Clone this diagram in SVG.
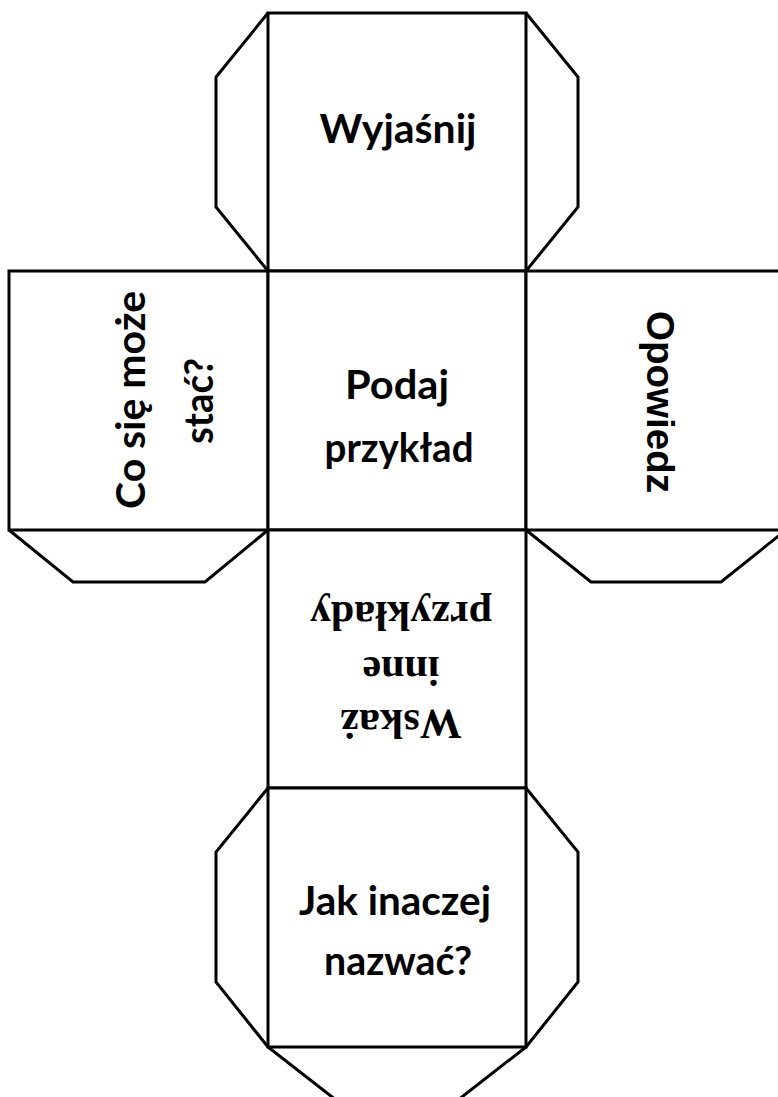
<svg xmlns="http://www.w3.org/2000/svg" width="778" height="1097" viewBox="0 0 778 1097">
<style>
.ln{fill:#fff;stroke:#000;stroke-width:3;stroke-linejoin:miter}
.fl{fill:none;stroke:#000;stroke-width:3;stroke-linejoin:miter}
.c{font-family:Lato,"Open Sans","Liberation Sans",sans-serif;font-weight:bold;font-size:40px;fill:#000;text-anchor:middle}
.a{font-family:"Liberation Sans",Arial,sans-serif;font-weight:bold;font-size:38px;fill:#000;text-anchor:middle}
.s{font-family:"Liberation Serif","Times New Roman",serif;font-weight:bold;font-size:42px;fill:#000;text-anchor:middle}
</style>
<rect width="778" height="1097" fill="#fff"/>
<g id="flaps">
<polyline class="fl" points="268,13 216,77 216,207 268,271"/>
<polyline class="fl" points="526,13 578,77 578,207 526,271"/>
<polyline class="fl" points="9,530 73,582 205,582 268,530"/>
<polyline class="fl" points="526,530 591,582 721,582 786,530"/>
<polyline class="fl" points="268,788 216,852 216,982 268,1047"/>
<polyline class="fl" points="526,788 578,852 578,982 526,1047"/>
<polyline class="fl" points="268,1047 336,1100 458,1100 526,1047"/>
</g>
<g id="face-top">
<rect class="ln" x="268" y="13" width="258" height="258"/>
<text class="c" x="398" y="143" textLength="157" lengthAdjust="spacingAndGlyphs">Wyjaśnij</text>
</g>
<g id="face-left">
<rect class="ln" x="9" y="271" width="259" height="259"/>
<text class="c" x="145" y="400" transform="rotate(-90 145 400)" textLength="218" lengthAdjust="spacingAndGlyphs">Co się może</text>
<text class="c" x="213" y="401" transform="rotate(-90 213 401)" textLength="86" lengthAdjust="spacingAndGlyphs">stać?</text>
</g>
<g id="face-center">
<rect class="ln" x="268" y="271" width="258" height="259"/>
<text class="c" x="397" y="399" textLength="104" lengthAdjust="spacingAndGlyphs">Podaj</text>
<text class="c" x="399" y="462" textLength="149" lengthAdjust="spacingAndGlyphs">przykład</text>
</g>
<g id="face-right">
<rect class="ln" x="526" y="271" width="262" height="259"/>
<text class="a" x="647" y="402" transform="rotate(90 647 402)" textLength="182" lengthAdjust="spacingAndGlyphs">Opowiedz</text>
</g>
<g id="face-lower">
<rect class="ln" x="268" y="530" width="258" height="258"/>
<text class="s" x="401" y="602" transform="rotate(180 401 602)">przykłady</text>
<text class="s" x="401" y="657" transform="rotate(180 401 657)">inne</text>
<text class="s" x="401" y="710" transform="rotate(180 401 710)">Wskaż</text>
</g>
<g id="face-bottom">
<rect class="ln" x="268" y="788" width="258" height="259"/>
<text class="c" x="395" y="915" textLength="192" lengthAdjust="spacingAndGlyphs">Jak inaczej</text>
<text class="c" x="398" y="975" textLength="148" lengthAdjust="spacingAndGlyphs">nazwać?</text>
</g>
</svg>
